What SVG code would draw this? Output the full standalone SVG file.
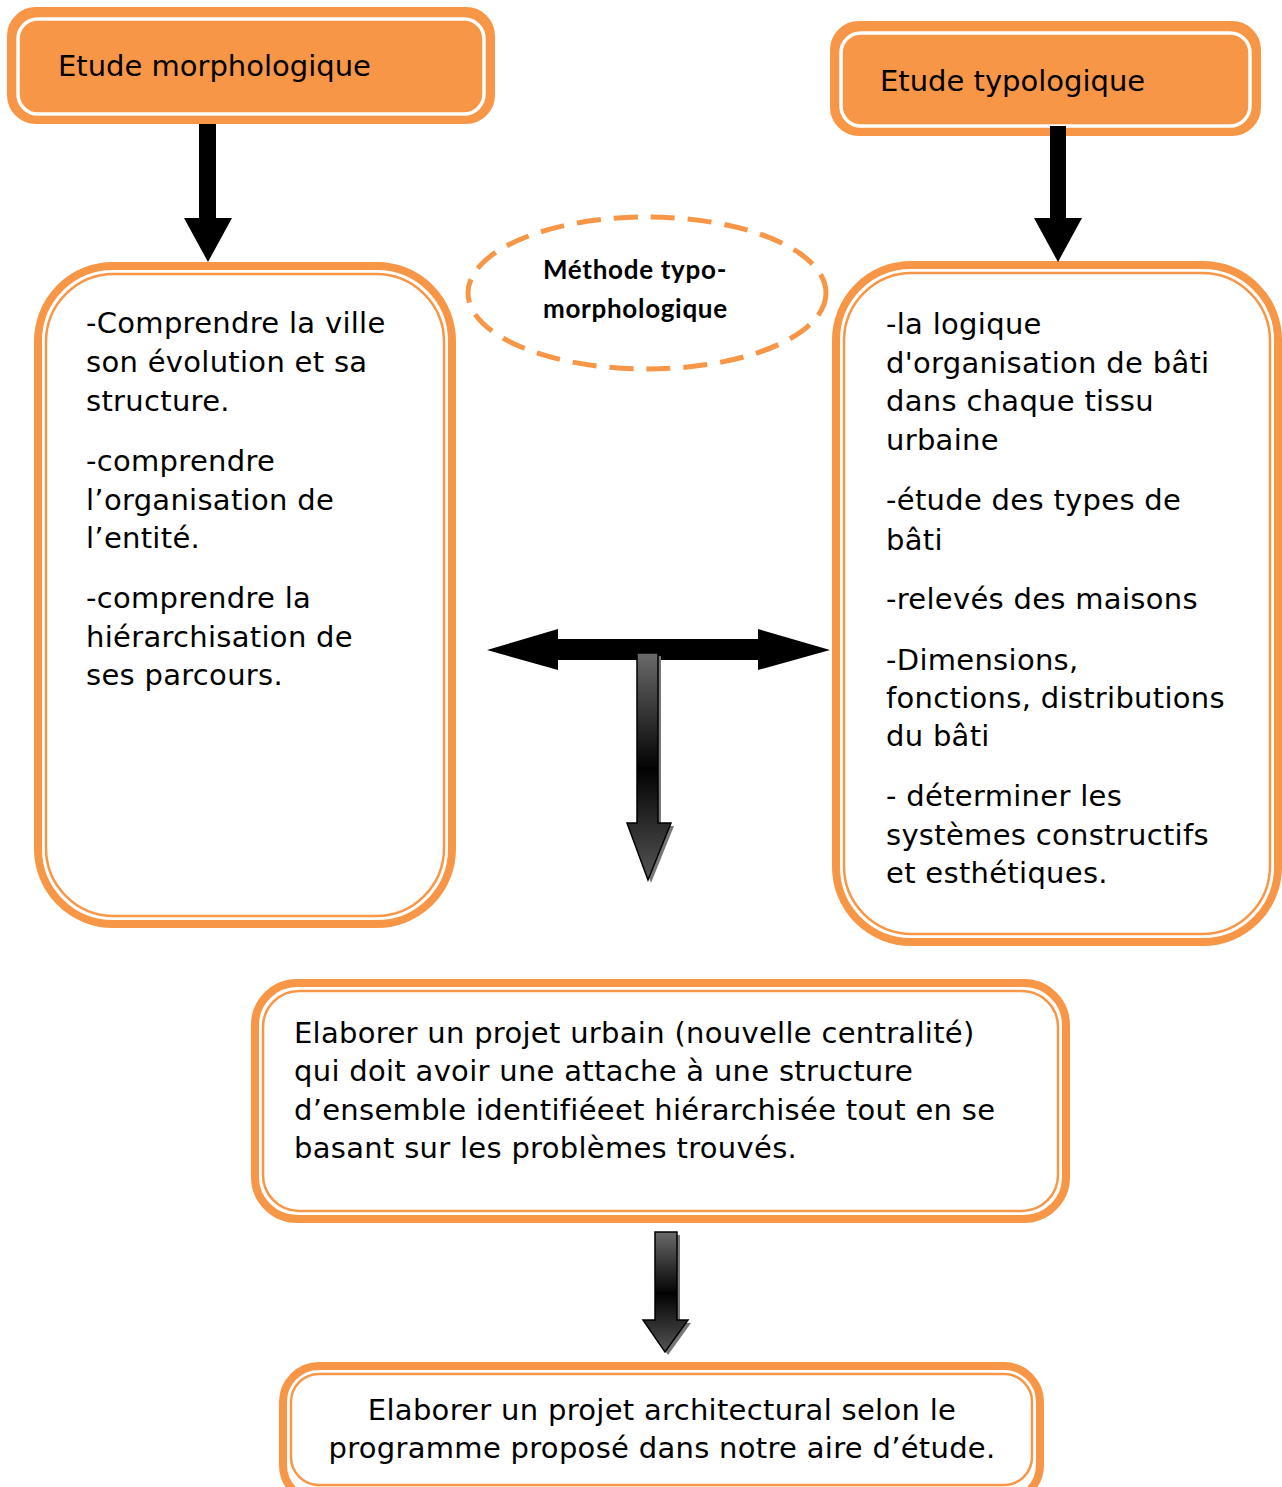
<svg xmlns="http://www.w3.org/2000/svg" width="1282" height="1487" viewBox="0 0 1282 1487">
<defs>
<style>
.t{font-family:"DejaVu Sans",Verdana,sans-serif;font-size:29px;fill:#000;letter-spacing:0.3px}
.h{font-family:"DejaVu Sans",Verdana,sans-serif;font-size:29px;fill:#000}
.hb{fill:#F79646;stroke:#F79646;stroke-width:2}
.hw{fill:none;stroke:#fff;stroke-width:3.5}
.bo{fill:#fff;stroke:#F79646;stroke-width:8}
.bi{fill:none;stroke:#F79646;stroke-width:2.5}
.e{font-family:Lato,"Open Sans",sans-serif;font-weight:bold;font-size:26px;letter-spacing:0.7px;fill:#000}
</style>
<linearGradient id="g1" x1="0" y1="0" x2="0" y2="1">
<stop offset="0" stop-color="#6a6a6a"/>
<stop offset="0.5" stop-color="#050505"/>
<stop offset="0.5" stop-color="#000"/>
<stop offset="1" stop-color="#555"/>
</linearGradient>
</defs>

<g id="etude-morphologique">
<rect class="hb" x="8" y="8" width="486" height="115" rx="28"/>
<rect class="hw" x="18" y="19" width="466" height="95" rx="20"/>
<text class="h" x="58" y="76">Etude morphologique</text>
</g>

<g id="etude-typologique">
<rect class="hb" x="831" y="22" width="429" height="113" rx="28"/>
<rect class="hw" x="841" y="33" width="409" height="93" rx="20"/>
<text class="h" x="880" y="91">Etude typologique</text>
</g>

<g id="methode">
<ellipse cx="647" cy="293" rx="179" ry="76" fill="#fff" stroke="#F79646" stroke-width="5" stroke-dasharray="24 13"/>
<text class="e" x="543" y="279">Méthode typo-</text>
<text class="e" x="543" y="318">morphologique</text>
</g>

<g id="box-morpho">
<rect class="bo" x="38" y="266" width="414" height="658" rx="75"/>
<rect class="bi" x="46" y="274" width="398" height="642" rx="68"/>
<text class="t" x="86" y="333">-Comprendre la ville</text>
<text class="t" x="86" y="372">son évolution et sa</text>
<text class="t" x="86" y="411">structure.</text>
<text class="t" x="86" y="471">-comprendre</text>
<text class="t" x="86" y="510">l’organisation de</text>
<text class="t" x="86" y="548">l’entité.</text>
<text class="t" x="86" y="608">-comprendre la</text>
<text class="t" x="86" y="647">hiérarchisation de</text>
<text class="t" x="86" y="685">ses parcours.</text>
</g>

<g id="box-typo">
<rect class="bo" x="836" y="265" width="442" height="677" rx="75"/>
<rect class="bi" x="844" y="273" width="426" height="661" rx="68"/>
<text class="t" x="886" y="334">-la logique</text>
<text class="t" x="886" y="373">d'organisation de bâti</text>
<text class="t" x="886" y="411">dans chaque tissu</text>
<text class="t" x="886" y="450">urbaine</text>
<text class="t" x="886" y="510">-étude des types de</text>
<text class="t" x="886" y="550">bâti</text>
<text class="t" x="886" y="609">-relevés des maisons</text>
<text class="t" x="886" y="670">-Dimensions,</text>
<text class="t" x="886" y="708">fonctions, distributions</text>
<text class="t" x="886" y="746">du bâti</text>
<text class="t" x="886" y="806">- déterminer les</text>
<text class="t" x="886" y="845">systèmes constructifs</text>
<text class="t" x="886" y="883">et esthétiques.</text>
</g>

<g id="box-projet-urbain">
<rect class="bo" x="255" y="983" width="811" height="236" rx="42"/>
<rect class="bi" x="263" y="991" width="795" height="220" rx="36"/>
<text class="t" x="294" y="1043">Elaborer un projet urbain (nouvelle centralité)</text>
<text class="t" x="294" y="1081">qui doit avoir une attache à une structure</text>
<text class="t" x="294" y="1120">d’ensemble identifiéeet hiérarchisée tout en se</text>
<text class="t" x="294" y="1158">basant sur les problèmes trouvés.</text>
</g>

<g id="box-projet-archi">
<rect class="bo" x="283" y="1366" width="757" height="135" rx="36"/>
<rect class="bi" x="291" y="1374" width="741" height="111" rx="28"/>
<text class="t" x="662" y="1420" text-anchor="middle">Elaborer un projet architectural selon le</text>
<text class="t" x="662" y="1458" text-anchor="middle">programme proposé dans notre aire d’étude.</text>
</g>

<g id="connectors">
<polygon points="199,124 216,124 216,218 232,218 208,262 184,218 199,218" fill="#000"/>
<polygon points="1050,126 1066,126 1066,218 1082,218 1058,262 1034,218 1050,218" fill="#000"/>
<polygon points="487,650 558,629 558,639 758,639 758,629 830,650 758,670 758,660 558,660 558,670" fill="#000"/>
<polygon points="640,656 661,656 661,826 674,826 651,883 630,826 640,826" fill="#777"/>
<polygon points="637,653 658,653 658,823 671,823 648,880 627,823 637,823" fill="url(#g1)" stroke="#000" stroke-width="1.5"/>
<polygon points="658,1235 680,1235 680,1323 691,1323 668,1355 646,1323 658,1323" fill="#777"/>
<polygon points="655,1232 677,1232 677,1320 688,1320 665,1352 643,1320 655,1320" fill="url(#g1)" stroke="#000" stroke-width="1.5"/>
</g>
</svg>
